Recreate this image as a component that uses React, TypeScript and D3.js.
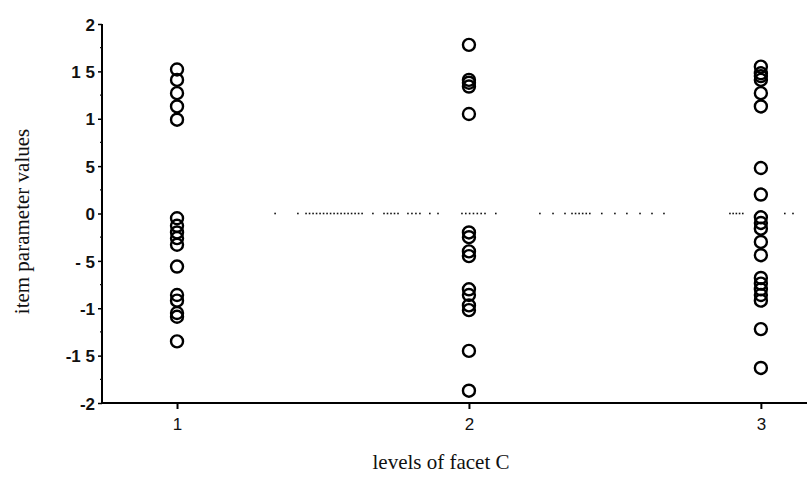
import React, { useEffect, useRef } from "react";
import * as d3 from "d3";

const levels = [1, 2, 3];
const level1 = [1.52, 1.41, 1.27, 1.13, 0.99, -0.05, -0.13, -0.2, -0.26, -0.33, -0.56, -0.86, -0.92, -1.05, -1.09, -1.35];
const level2 = [1.78, 1.41, 1.38, 1.34, 1.05, -0.2, -0.25, -0.4, -0.45, -0.8, -0.86, -0.97, -1.02, -1.45, -1.87];
const level3 = [1.55, 1.48, 1.45, 1.41, 1.27, 1.13, 0.48, 0.2, -0.04, -0.1, -0.16, -0.3, -0.44, -0.68, -0.74, -0.8, -0.86, -0.92, -1.22, -1.63];
const yTickValues = [2, 1.5, 1, 0.5, 0, -0.5, -1, -1.5, -2];
const yTickLabels = ["2", "1 5", "1", "5", "0", "- 5", "-1", "-1 5", "-2"];
// pieces of the broken dotted line at 0, in units of the x axis
const zeroLine = [
  [1.336, 1.336], [1.414, 1.414], [1.442, 1.634], [1.671, 1.671], [1.709, 1.757],
  [1.791, 1.832], [1.866, 1.866], [1.894, 1.894], [1.976, 2.055], [2.092, 2.092],
  [2.243, 2.243], [2.288, 2.288], [2.329, 2.329], [2.353, 2.414], [2.455, 2.455],
  [2.5, 2.5], [2.541, 2.541], [2.586, 2.586], [2.627, 2.627], [2.668, 2.668],
  [2.894, 2.938], [3.082, 3.082], [3.11, 3.11],
];

const W = 807;
const H = 478;

export default function App() {
  const ref = useRef<SVGSVGElement>(null);

  useEffect(() => {
    const svg = d3.select(ref.current);
    svg.selectAll("*").remove();

    const x = d3.scaleLinear().domain([0.743, 3.158]).range([102, 807]);
    const y = d3.scaleLinear().domain([-2, 2]).range([403, 24]);

    // zero reference dots
    const dots: number[] = [];
    zeroLine.forEach(([a, b]) => {
      const x0 = x(a), x1 = x(b);
      const n = Math.max(1, Math.round((x1 - x0) / 3.6) + 1);
      for (let i = 0; i < n; i++) dots.push(n === 1 ? x0 : x0 + ((x1 - x0) * i) / (n - 1));
    });
    svg.append("g").selectAll("rect").data(dots).join("rect")
      .attr("x", (d) => d - 0.8).attr("y", y(0) - 0.8)
      .attr("width", 1.6).attr("height", 1.6).attr("fill", "#111");

    // y axis
    const yAxis = svg.append("g").attr("transform", `translate(${x(0.743)},0)`)
      .call(d3.axisLeft(y).tickValues(yTickValues).tickSize(4)
        .tickFormat((d, i) => yTickLabels[i]));
    yAxis.select(".domain").attr("stroke-width", 2).attr("d", `M0,${y(2)}V${y(-2)}`);
    yAxis.selectAll("line").attr("stroke-width", 1.5);
    yAxis.selectAll("text")
      .attr("x", -7).attr("dy", "0.36em")
      .style("font-family", "'Liberation Sans', Arial, sans-serif")
      .style("font-size", "17px").style("font-weight", "bold").attr("fill", "#111");

    // minor ticks on y axis
    svg.append("g").selectAll("line").data(d3.range(-1.75, 2, 0.5)).join("line")
      .attr("x1", x(0.743) - 2).attr("x2", x(0.743))
      .attr("y1", (d) => y(d)).attr("y2", (d) => y(d))
      .attr("stroke", "#111").attr("stroke-width", 1.2);

    // x axis
    const xAxis = svg.append("g").attr("transform", `translate(0,${y(-2)})`)
      .call(d3.axisBottom(x).tickValues(levels).tickSize(6).tickFormat(d3.format("d")));
    xAxis.select(".domain").attr("stroke-width", 2).attr("d", `M${x(0.743)},0H${W}`);
    xAxis.selectAll("line").attr("stroke-width", 2);
    xAxis.selectAll("text")
      .attr("y", 15)
      .style("font-family", "'Liberation Sans', Arial, sans-serif")
      .style("font-size", "17px").attr("fill", "#111");

    // points
    const series = [level1, level2, level3];
    series.forEach((vals, i) => {
      svg.append("g").selectAll("circle").data(vals).join("circle")
        .attr("cx", x(levels[i])).attr("cy", (d) => y(d)).attr("r", 6)
        .attr("fill", "none").attr("stroke", "#000").attr("stroke-width", 2.4);
    });

    // axis titles
    svg.append("text")
      .attr("transform", `translate(29,${y(0) + 8}) rotate(-90)`)
      .attr("text-anchor", "middle")
      .style("font-family", "'Liberation Serif', 'Times New Roman', serif")
      .style("font-size", "21px").attr("fill", "#111")
      .text("item parameter values");

    svg.append("text")
      .attr("x", 441).attr("y", 469)
      .attr("text-anchor", "middle")
      .style("font-family", "'Liberation Serif', 'Times New Roman', serif")
      .style("font-size", "21px").attr("fill", "#111")
      .text("levels of facet C");
  }, []);

  return (
    <svg
      ref={ref}
      width={W}
      height={H}
      style={{ position: "absolute", left: 0, top: 0, background: "#fff" }}
    />
  );
}
